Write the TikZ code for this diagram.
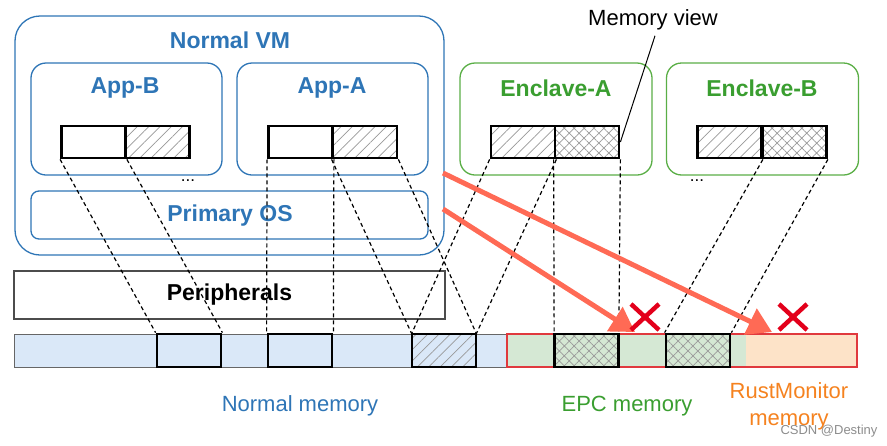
\documentclass[tikz,border=0pt]{standalone}
\usepackage{fontspec}
\setmainfont{Liberation Sans}
\usetikzlibrary{arrows.meta,patterns.meta}
\definecolor{blueC}{HTML}{2E75B6}
\definecolor{greenT}{HTML}{3A9E30}
\definecolor{greenB}{HTML}{5AAE46}
\definecolor{orangeC}{HTML}{F5821F}
\definecolor{lblue}{HTML}{DAE8F8}
\definecolor{lgreen}{HTML}{D5E8D4}
\definecolor{lorange}{HTML}{FDE3C8}
\definecolor{redB}{HTML}{E0393E}
\definecolor{arrowC}{HTML}{FF6A55}
\definecolor{xC}{HTML}{E3001B}
\begin{document}
\begin{tikzpicture}[x=1pt,y=-1pt,
  bluebox/.style={draw=blueC,line width=1.3pt,rounded corners=#1,inner sep=0pt},
  greenbox/.style={draw=greenB,line width=1.3pt,rounded corners=15pt,inner sep=0pt,minimum width=192pt,minimum height=112pt},
  btitle/.style={text=blueC,font=\fontsize{23}{26}\selectfont\bfseries},
  gtitle/.style={text=greenT,font=\fontsize{23}{26}\selectfont\bfseries},
  half/.style={draw=black,line width=2.8pt,minimum width=64pt,minimum height=32pt,inner sep=0pt},
  plain/.style={half,fill=white},
  hatch/.style={half,pattern={Lines[angle=45,distance=8pt,line width=0.7pt]},pattern color=gray!80},
  cross/.style={half,pattern={Hatch[angle=45,distance=7pt,line width=0.7pt]},pattern color=gray!80},
  blk/.style={draw=black,line width=2.8pt,minimum width=64pt,minimum height=33pt,inner sep=0pt},
  seg/.style={draw=none,minimum height=33pt,inner sep=0pt},
  dl/.style={black,line width=1.2pt,dash pattern=on 4pt off 3pt},
  redarrow/.style={arrowC,line width=5pt,-{Triangle[length=24pt,width=28pt]}},
  xmark/.style={xC,line width=4.5pt},
  lbl/.style={font=\fontsize{22}{25}\selectfont}
]
\useasboundingbox (0,0) rectangle (887,445);
% Normal VM
\node[bluebox=25pt,minimum width=429pt,minimum height=239pt] (vm) at (229.5,135.5) {};
\node[btitle] (vmt) at (230,40) {Normal VM};
\node[bluebox=15pt,minimum width=191pt,minimum height=112pt] (appb) at (126.5,119) {};
\node[btitle] (appbt) at (125,88) {App-B};
\node[bluebox=15pt,minimum width=191pt,minimum height=112pt] (appa) at (332.5,119) {};
\node[btitle] (appat) at (332,88) {App-A};
\node[bluebox=8pt,minimum width=397pt,minimum height=48pt] (os) at (229.5,215) {};
\node[btitle] (ost) at (230,216) {Primary OS};
\node[font=\fontsize{17}{17}\selectfont] (dots1) at (188,181) {...};
% Enclaves
\node[greenbox] (enca) at (556,119) {};
\node[gtitle] (encat) at (556,88) {Enclave-A};
\node[greenbox] (encb) at (762.5,119) {};
\node[gtitle] (encbt) at (762,88) {Enclave-B};
\node[font=\fontsize{17}{17}\selectfont] (dots2) at (697,181) {...};
% Peripherals
\node[draw=black!70,line width=1.3pt,minimum width=431pt,minimum height=48pt,inner sep=0pt,font=\fontsize{23}{26}\selectfont\bfseries] (per) at (229.5,295) {Peripherals};
% memory bar backgrounds
\node[seg,fill=lblue,draw=black!60,line width=1pt,minimum width=493pt] (nmem) at (260.5,350.5) {};
\node[seg,fill=lgreen,minimum width=239pt] (epc) at (626.5,350.5) {};
\node[seg,fill=lorange,minimum width=111pt] (rmm) at (801.5,350.5) {};
\node[seg,draw=redB,line width=2pt,minimum width=350pt] (sec) at (682,350.5) {};
% memory blocks
\node[blk] (m1) at (189,350.5) {};
\node[blk] (m2) at (300,350.5) {};
\node[blk,preaction={fill=lblue},pattern={Lines[angle=45,distance=8pt,line width=0.7pt]},pattern color=gray!80] (m3) at (444,350.5) {};
\node[blk,preaction={fill=lgreen},pattern={Hatch[angle=45,distance=7pt,line width=0.7pt]},pattern color=gray!80] (e1) at (586.5,350.5) {};
\node[blk,preaction={fill=lgreen},pattern={Hatch[angle=45,distance=7pt,line width=0.7pt]},pattern color=gray!80] (e2) at (698,350.5) {};
% memory views
\node[plain] (b1) at (93.5,142) {};
\node[hatch,preaction={fill=white}] (b2) at (157.5,142) {};
\node[plain] (a1) at (300.5,142) {};
\node[hatch,preaction={fill=white}] (a2) at (365,142) {};
\node[hatch,preaction={fill=white}] (ea1) at (523,142) {};
\node[cross,preaction={fill=white}] (ea2) at (587,142) {};
\node[hatch,preaction={fill=white}] (eb1) at (729.5,142) {};
\node[cross,preaction={fill=white}] (eb2) at (794.5,142) {};
% labels
\node[lbl] (mv) at (653,20) {Memory view};
\draw[line width=1pt] (mv.south) ++(2,2) -- (ea2.east);
\node[lbl,text=blueC] (nml) at (300,406) {Normal memory};
\node[lbl,text=greenT] (epcl) at (627,406) {EPC memory};
\node[lbl,text=orangeC,align=center,font=\fontsize{22}{27}\selectfont] (rml) at (789,406) {RustMonitor\\memory};
\node[text=black!45,font=\fontsize{13}{13}\selectfont] (wm) at (829,431) {CSDN @Destiny};
% dashed mappings
\draw[dl] (b1.south west) -- (m1.north west);
\draw[dl] (b1.south east) -- (m1.north east);
\draw[dl] (a1.south west) -- (m2.north west);
\draw[dl] (a1.south east) -- (m2.north east);
\draw[dl] (a2.south west) -- (m3.north west);
\draw[dl] (a2.south east) -- (m3.north east);
\draw[dl] (ea1.south west) -- (m3.north west);
\draw[dl] (ea1.south east) -- (m3.north east);
\draw[dl] (ea2.south west) -- (e1.north west);
\draw[dl] (ea2.south east) -- (e1.north east);
\draw[dl] (eb1.south east) -- (e2.north west);
\draw[dl] (eb2.south east) -- (e2.north east);
% red arrows
\coordinate (s1) at (443,173);
\coordinate (s2) at (443,209);
\coordinate (t1) at (772,332);
\coordinate (t2) at (635,332);
\draw[redarrow] (s1) -- (t1);
\draw[redarrow] (s2) -- (t2);
% X marks
\draw[xmark] (631,304) -- (659,330) (631,330) -- (659,304);
\draw[xmark] (779,304) -- (807,330) (779,330) -- (807,304);
\end{tikzpicture}
\end{document}
